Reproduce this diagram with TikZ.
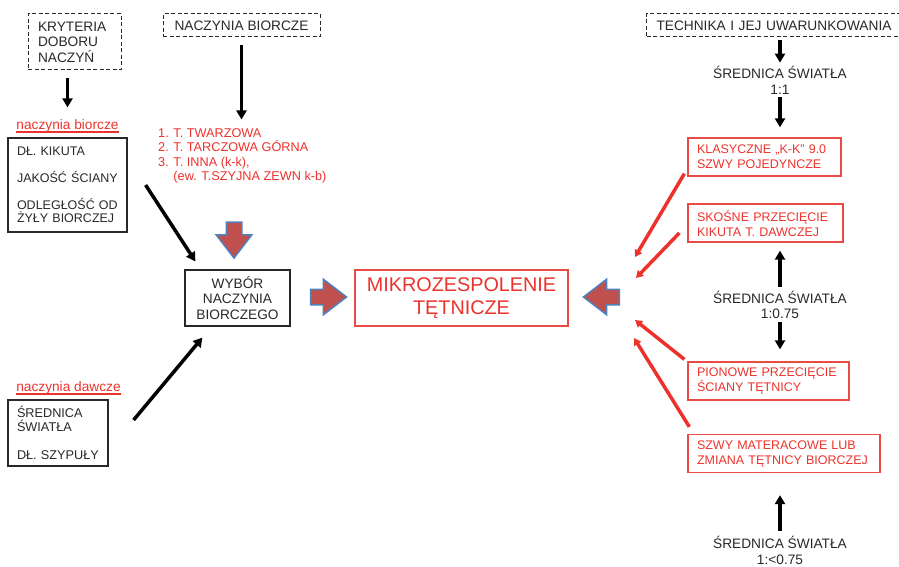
\documentclass[tikz,border=0pt]{standalone}
\usepackage{fontspec}
\setmainfont{Liberation Sans}
\usepackage{xcolor}
\usetikzlibrary{positioning, shapes}
\usetikzlibrary{arrows.meta}
\definecolor{txtred}{RGB}{237,50,44}
\definecolor{boxred}{RGB}{235,75,70}
\definecolor{fatred}{RGB}{192,80,77}
\definecolor{fatblue}{RGB}{79,129,189}
\definecolor{txtgray}{RGB}{40,40,40}

\begin{document}
\begin{tikzpicture}[x=1pt,y=-1pt]
            \tikzset{txt/.style = {font=\fontsize{12.5}{15}\selectfont, text=txtgray, inner sep=0pt}}
            \tikzset{bigtxt/.style = {txt, font=\fontsize{13.7}{15.5}\selectfont}}
            \tikzset{dashbox/.style = {bigtxt, draw=txtgray, line width=1pt, dash pattern=on 4pt off 2.5pt}}
            \tikzset{blackbox/.style = {txt, draw=txtgray, line width=1.2pt}}
            \tikzset{redbox/.style = {txt, text=txtred, draw=boxred, line width=1.3pt, align=left, minimum height=38pt, inner xsep=9pt}}
            \tikzset{edge/.style = {-{Triangle[length=9pt,width=10pt]}, line width=3.5pt}}
            \tikzset{rededge/.style = {-{Triangle[length=7pt,width=8pt]}, line width=3.5pt, draw=txtred}}
            \tikzset{fatarrow/.style = {single arrow, draw=fatblue, fill=fatred, line width=1.5pt, inner sep=7pt, minimum height=36pt, single arrow head extend=10pt, single arrow tip angle=75}}

            \useasboundingbox (0,0) rectangle (899,567);

            % dashed headers
            \node[dashbox, align=left, text width=73pt, inner xsep=10pt, minimum height=56pt] (krit) at (74.5,42) {KRYTERIA\\DOBORU\\NACZYŃ};
            \node[dashbox, minimum width=157pt, minimum height=23pt] (nbior) at (241.5,25.5) {NACZYNIA BIORCZE};
            \node[dashbox, anchor=west, minimum width=262pt, minimum height=23pt, align=left,
                text width=242pt, inner xsep=10pt] (tech) at (646,25.5) {TECHNIKA I JEJ UWARUNKOWANIA};

            % left column
            \node[bigtxt, text=txtred] (biorlbl) at (67.5,126) {naczynia biorcze};
            \draw[txtred, line width=1.5pt] ([yshift=-2.5pt]biorlbl.base west) -- ([yshift=-2.5pt]biorlbl.base east);
            \node[blackbox, align=left, text width=101pt, inner xsep=9pt, minimum height=94pt,
                font=\fontsize{12.5}{13.5}\selectfont] (dlbox) at (67.5,185)
                {DŁ. KIKUTA\\[13.5pt]JAKOŚĆ ŚCIANY\\[13.5pt]ODLEGŁOŚĆ OD\\ŻYŁY BIORCZEJ};

            \node[bigtxt, text=txtred] (dawlbl) at (68.5,388) {naczynia dawcze};
            \draw[txtred, line width=1.5pt] ([yshift=-2.5pt]dawlbl.base west) -- ([yshift=-2.5pt]dawlbl.base east);
            \node[blackbox, align=left, text width=82pt, inner xsep=9pt, minimum height=66pt,
                font=\fontsize{12.7}{14}\selectfont] (srbox) at (58,433)
                {ŚREDNICA\\ŚWIATŁA\\[14pt]DŁ. SZYPUŁY};

            % recipient vessels list
            \node[txt, text=txtred, align=left, anchor=north west, font=\fontsize{12.7}{14.3}\selectfont] (list) at (158,128.5)
                {1. T. TWARZOWA\\2. T. TARCZOWA GÓRNA\\3. T. INNA (k-k),\\\phantom{3. }(ew. T.SZYJNA ZEWN k-b)};

            % middle
            \node[blackbox, align=center, minimum width=105pt, minimum height=56pt,
                font=\fontsize{13.7}{15.5}\selectfont] (wybor) at (237.5,298) {WYBÓR\\NACZYNIA\\BIORCZEGO};
            \node[txt, text=txtred, draw=boxred, line width=2pt, align=center, minimum width=213pt, minimum height=56pt,
                font=\fontsize{19.8}{23}\selectfont] (mikro) at (461.5,298) {MIKROZESPOLENIE\\TĘTNICZE};

            \node[fatarrow, shape border rotate=270] (fdown) at (234,235) {};
            \node[fatarrow] (fright) at (323.5,297) {};
            \node[fatarrow, shape border rotate=180] (fleft) at (606.5,297) {};

            % right column
            \node[bigtxt, align=center, font=\fontsize{13.7}{16}\selectfont] (sr1) at (780,80) {ŚREDNICA ŚWIATŁA\\1:1};
            \node[redbox, minimum width=153pt, text width=135pt] (klas) at (764.5,157) {KLASYCZNE „K-K” 9.0\\SZWY POJEDYNCZE};
            \node[redbox, minimum width=155pt, text width=137pt] (skos) at (765.5,223) {SKOŚNE PRZECIĘCIE\\KIKUTA T. DAWCZEJ};
            \node[bigtxt, align=center, font=\fontsize{13.7}{15}\selectfont] (sr2) at (780,304.5) {ŚREDNICA ŚWIATŁA\\1:0.75};
            \node[redbox, minimum width=161pt, text width=143pt] (pion) at (768.5,381) {PIONOWE PRZECIĘCIE\\ŚCIANY TĘTNICY};
            \node[redbox, minimum width=192pt, text width=174pt] (szwy) at (784,453.5) {SZWY MATERACOWE LUB\\ZMIANA TĘTNICY BIORCZEJ};
            \node[bigtxt, align=center, font=\fontsize{13.7}{16}\selectfont] (sr3) at (780,550) {ŚREDNICA ŚWIATŁA\\1:<0.75};

            % black arrows
            \draw[edge, shorten <=8pt, shorten >=12pt] (krit.south -| biorlbl.north) -- (biorlbl.north);
            \draw[edge, shorten <=8pt, shorten >=9pt] (nbior.south) -- (list.north -| nbior.south);
            \draw[edge] ([xshift=18pt]dlbox.east) -- ([shift={(11pt,8pt)}]wybor.north west);
            \draw[edge] ([shift={(25pt,13pt)}]srbox.east) -- ([shift={(18pt,-11pt)}]wybor.south west);
            \draw[edge, shorten <=3pt, shorten >=3pt] (tech.south -| sr1.north) -- (sr1.north);
            \draw[edge, shorten <=3pt, shorten >=10pt] (sr1.south) -- (klas.north -| sr1.south);
            \draw[edge, shorten <=4pt, shorten >=8pt] (sr2.north) -- (skos.south -| sr2.north);
            \draw[edge, shorten <=4pt, shorten >=12pt] (sr2.south) -- (pion.north -| sr2.south);
            \draw[edge, shorten <=5pt, shorten >=22pt] (sr3.north) -- (szwy.south -| sr3.north);

            % red arrows into the anastomosis
            \coordinate (r1) at (635,257);
            \coordinate (r2) at (636,278);
            \coordinate (r3) at (635,320);
            \coordinate (r4) at (634,338);
            \draw[rededge] ([shift={(-3pt,3pt)}]klas.south west) -- (r1);
            \draw[rededge] ([shift={(-8pt,-10pt)}]skos.west) -- (r2);
            \draw[rededge] ([shift={(-3pt,2pt)}]pion.north west) -- (r3);
            \draw[rededge] ([shift={(2pt,7pt)}]szwy.north west) -- (r4);

\end{tikzpicture}
\end{document}
